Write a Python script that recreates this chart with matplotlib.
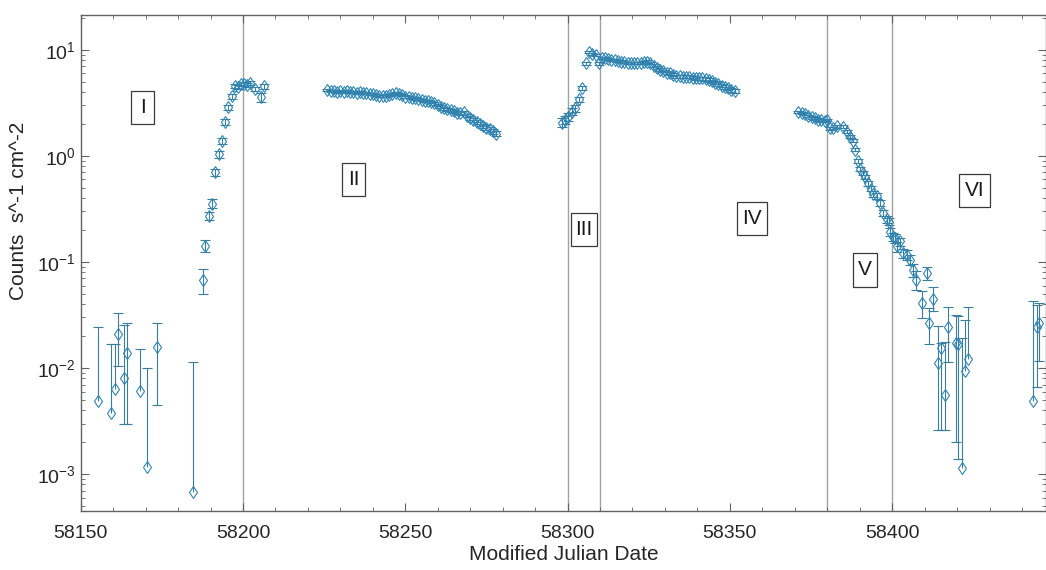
import numpy as np
import matplotlib
matplotlib.use("Agg")
import matplotlib.pyplot as plt
from matplotlib.patches import Rectangle
from matplotlib.ticker import LogLocator, MultipleLocator, FixedLocator, FixedFormatter, NullFormatter

# ---- data ----
# pre-outburst, faint points (lower error 0 = lower bar dropped on the log axis)
mjd_pre = [58155.3, 58159.4, 58160.6, 58161.6, 58163.3, 58164.2, 58168.3, 58170.4, 58173.5, 58184.6]
rate_pre = [0.0049, 0.0038, 0.0064, 0.021, 0.0081, 0.0138, 0.0061, 0.00117, 0.0157, 0.00068]
lo_pre = [0.0, 0.0, 0.0, 0.0105, 0.0051, 0.0108, 0.0, 0.0, 0.0112, 0.0]
hi_pre = [0.0195, 0.0130, 0.0105, 0.0120, 0.0174, 0.0130, 0.0090, 0.0088, 0.0110, 0.0108]

# rise (region I)
mjd_rise = [58187.6, 58188.4, 58189.4, 58190.4, 58191.5, 58192.5, 58193.5, 58194.5, 58195.5,
            58196.5, 58197.5, 58198.4, 58199.3, 58200.3, 58201.2, 58202.3, 58203.7, 58205.5, 58206.6]
rate_rise = [0.068, 0.142, 0.273, 0.355, 0.70, 1.04, 1.39, 2.08, 2.87,
             3.67, 4.60, 4.50, 4.72, 4.80, 4.65, 4.90, 4.27, 3.57, 4.56]
err_rise = [0.018, 0.018, 0.025, 0.035, 0.06, 0.08, 0.10, 0.13, 0.16,
            0.20, 0.20, 0.20, 0.20, 0.20, 0.20, 0.20, 0.22, 0.35, 0.25]

# region II, daily from MJD 58226
mjd2_start = 58226
rate2 = [4.15, 4.05, 4.10, 4.00, 4.08, 4.02, 4.05, 3.98, 4.04, 3.95, 3.98, 3.92, 3.95, 3.85,
         3.80, 3.72, 3.70, 3.66, 3.68, 3.75, 3.85, 3.92, 3.80, 3.72, 3.62, 3.58, 3.52, 3.48,
         3.45, 3.38, 3.30, 3.28, 3.22, 3.12, 3.02, 2.92, 2.82, 2.76, 2.70, 2.62, 2.55, 2.52,
         2.58, 2.40, 2.28, 2.18, 2.10, 2.00, 1.92, 1.85, 1.78, 1.70, 1.62]
err2 = 0.09

# region III
mjd3 = [58298.2, 58299.2, 58300.2, 58301.3, 58302.3, 58303.5, 58304.5, 58305.6, 58306.6,
        58307.6, 58308.7, 58309.7]
rate3 = [2.06, 2.18, 2.34, 2.61, 2.81, 3.42, 4.34, 7.46, 9.47, 9.13, 8.93, 7.46]
err3 = 0.2

# region IV, daily from MJD 58310.5
mjd4_start = 58310.5
rate4 = [8.43, 8.30, 8.15, 8.05, 7.95, 7.80, 7.75, 7.65, 7.55, 7.50, 7.45, 7.50, 7.55, 7.70,
         7.75, 7.50, 7.10, 6.80, 6.50, 6.30, 6.10, 6.00, 5.80, 5.65, 5.60, 5.55, 5.58, 5.55,
         5.45, 5.40, 5.38, 5.40, 5.30, 5.20, 5.05, 4.90, 4.75, 4.60, 4.45, 4.32, 4.20, 4.10]
err4 = 0.18

# decay (regions V and VI)
mjd5 = [58371.1, 58372.1, 58373.1, 58374.2, 58375.2, 58376.2, 58377.2, 58378.2, 58379.2, 58379.9,
        58380.8, 58381.8, 58382.9, 58384.9, 58386.0, 58387.0, 58387.8, 58388.5, 58389.4, 58390.1,
        58390.9, 58391.6, 58392.6, 58393.4, 58394.2, 58395.2, 58396.2, 58397.3, 58398.3, 58398.9,
        58399.3, 58400.3, 58400.8, 58401.4, 58402.4, 58403.4, 58404.5, 58405.5, 58406.5, 58407.5,
        58409.1, 58410.6, 58411.4, 58412.7, 58414.2, 58415.2, 58416.3, 58417.3, 58419.7, 58420.4,
        58421.4, 58422.4, 58423.4]
rate5 = [2.58, 2.52, 2.48, 2.38, 2.30, 2.26, 2.20, 2.16, 2.14, 2.18,
         1.82, 1.83, 1.90, 1.89, 1.69, 1.52, 1.39, 1.14, 0.895, 0.748,
         0.687, 0.630, 0.552, 0.490, 0.438, 0.419, 0.358, 0.292, 0.253, 0.240,
         0.193, 0.173, 0.167, 0.140, 0.156, 0.121, 0.117, 0.105, 0.0843, 0.0679,
         0.0414, 0.0785, 0.0268, 0.0449, 0.0111, 0.0154, 0.0056, 0.0246, 0.0174, 0.0169,
         0.00114, 0.0094, 0.0121]
lo5 = [0.06, 0.06, 0.06, 0.06, 0.06, 0.06, 0.06, 0.06, 0.06, 0.06,
       0.05, 0.05, 0.05, 0.05, 0.05, 0.05, 0.04, 0.04, 0.035, 0.03,
       0.03, 0.03, 0.03, 0.025, 0.025, 0.025, 0.022, 0.02, 0.018, 0.018,
       0.016, 0.015, 0.015, 0.015, 0.013, 0.013, 0.012, 0.012, 0.012, 0.014,
       0.012, 0.011, 0.0100, 0.0106, 0.0085, 0.0128, 0.0030, 0.0133, 0.0154, 0.0155,
       0.0, 0.0, 0.0]
hi5 = [0.06, 0.06, 0.06, 0.06, 0.06, 0.06, 0.06, 0.06, 0.06, 0.06,
       0.05, 0.05, 0.05, 0.05, 0.05, 0.05, 0.04, 0.04, 0.035, 0.03,
       0.03, 0.03, 0.03, 0.025, 0.025, 0.025, 0.022, 0.02, 0.018, 0.018,
       0.016, 0.015, 0.015, 0.015, 0.013, 0.013, 0.012, 0.012, 0.012, 0.014,
       0.012, 0.011, 0.0098, 0.0135, 0.0140, 0.0020, 0.0120, 0.0131, 0.0143, 0.0138,
       0.0180, 0.0189, 0.0256]

# late points (region VI)
mjd6 = [58443.5, 58444.5, 58445.3]
rate6 = [0.0049, 0.0246, 0.0268]
lo6 = [0.0, 0.0180, 0.0151]
hi6 = [0.0376, 0.0150, 0.0145]

boundaries = [58200, 58300, 58310, 58380, 58400]
region_labels = ["I", "II", "III", "IV", "V", "VI"]
xtick_vals = [58150, 58200, 58250, 58300, 58350, 58400]

# ---- plotting ----
plt.rcParams["font.family"] = ["Liberation Sans", "DejaVu Sans"]
plt.rcParams["mathtext.default"] = "regular"

W, H = 1046, 570
fig = plt.figure(figsize=(W / 100, H / 100), dpi=100)
ax = fig.add_axes([80.7 / W, 1 - 511 / H, 1 - 80.7 / W, (511 - 14.5) / H])

mcol = "#2f86b8"
ecol = "#3b7d9c"


def draw(x, y, lo, hi):
    x = np.asarray(x, float)
    y = np.asarray(y, float)
    lo = np.broadcast_to(np.asarray(lo, float), y.shape)
    hi = np.broadcast_to(np.asarray(hi, float), y.shape)
    ax.errorbar(x, y, yerr=[lo, hi], fmt="d", ms=6, mfc="none", mec=mcol, mew=0.8,
                ecolor=ecol, elinewidth=0.8, capsize=0, ls="none")
    # caps only where a bar exists (MATLAB drops the lower bar when it goes negative)
    m = lo > 0
    ax.plot(x[m], (y - lo)[m], ls="none", marker="_", ms=7, mew=0.8, color=ecol)
    ax.plot(x, y + hi, ls="none", marker="_", ms=7, mew=0.8, color=ecol)


draw(mjd_pre, rate_pre, lo_pre, hi_pre)
draw(mjd_rise, rate_rise, err_rise, err_rise)
draw(np.arange(len(rate2)) + mjd2_start, rate2, err2, err2)
draw(mjd3, rate3, err3, err3)
draw(np.arange(len(rate4)) + mjd4_start, rate4, err4, err4)
draw(mjd5, rate5, lo5, hi5)
draw(mjd6, rate6, lo6, hi6)

for b in boundaries:
    ax.axvline(b, color="#a3a3a3", lw=1.0, zorder=0)

ax.set_yscale("log")
ax.set_ylim(4.5e-4, 21.5)
ax.set_xlim(58150, 58447.4)

ax.xaxis.set_major_locator(FixedLocator(xtick_vals))
ax.xaxis.set_major_formatter(FixedFormatter([str(v) for v in xtick_vals]))
ax.xaxis.set_minor_locator(MultipleLocator(10))
ax.yaxis.set_major_locator(LogLocator(base=10, numticks=10))
ax.yaxis.set_minor_locator(LogLocator(base=10, subs=np.arange(2, 10), numticks=20))
ax.yaxis.set_minor_formatter(NullFormatter())

spine_col = "#626262"
for s in ax.spines.values():
    s.set_color(spine_col)
    s.set_linewidth(1.0)
ax.tick_params(which="both", direction="in", top=True, right=True, colors=spine_col,
               labelcolor="#262626", labelsize=14)
ax.tick_params(which="major", length=6)
ax.tick_params(which="minor", length=3)
ax.tick_params(axis="x", pad=10)

ax.set_xlabel("Modified Julian Date", fontsize=15, color="#262626", labelpad=2)
ax.set_ylabel("Counts  s^-1 cm^-2", fontsize=15, color="#262626")
ax.yaxis.set_label_coords(-0.0546, 0.604)

# region label boxes (centre x, centre y, width, height in figure pixels)
boxes = [(142.5, 107.5, 23, 33), (353.5, 179.5, 23, 33), (584, 229.5, 26.5, 33),
         (752, 218, 30, 33), (865, 270, 23.5, 34), (974.5, 190.5, 30.5, 33)]
for lab, (cx, cy, bw, bh) in zip(region_labels, boxes):
    rect = Rectangle(((cx - bw / 2) / W, 1 - (cy + bh / 2) / H), bw / W, bh / H,
                     transform=fig.transFigure, facecolor="white", edgecolor="#3a3a3a", lw=0.9)
    fig.add_artist(rect)
    fig.text(cx / W, 1 - cy / H, lab, ha="center", va="center", fontsize=15, color="#1a1a1a")

fig.savefig("out.png", dpi=100)
